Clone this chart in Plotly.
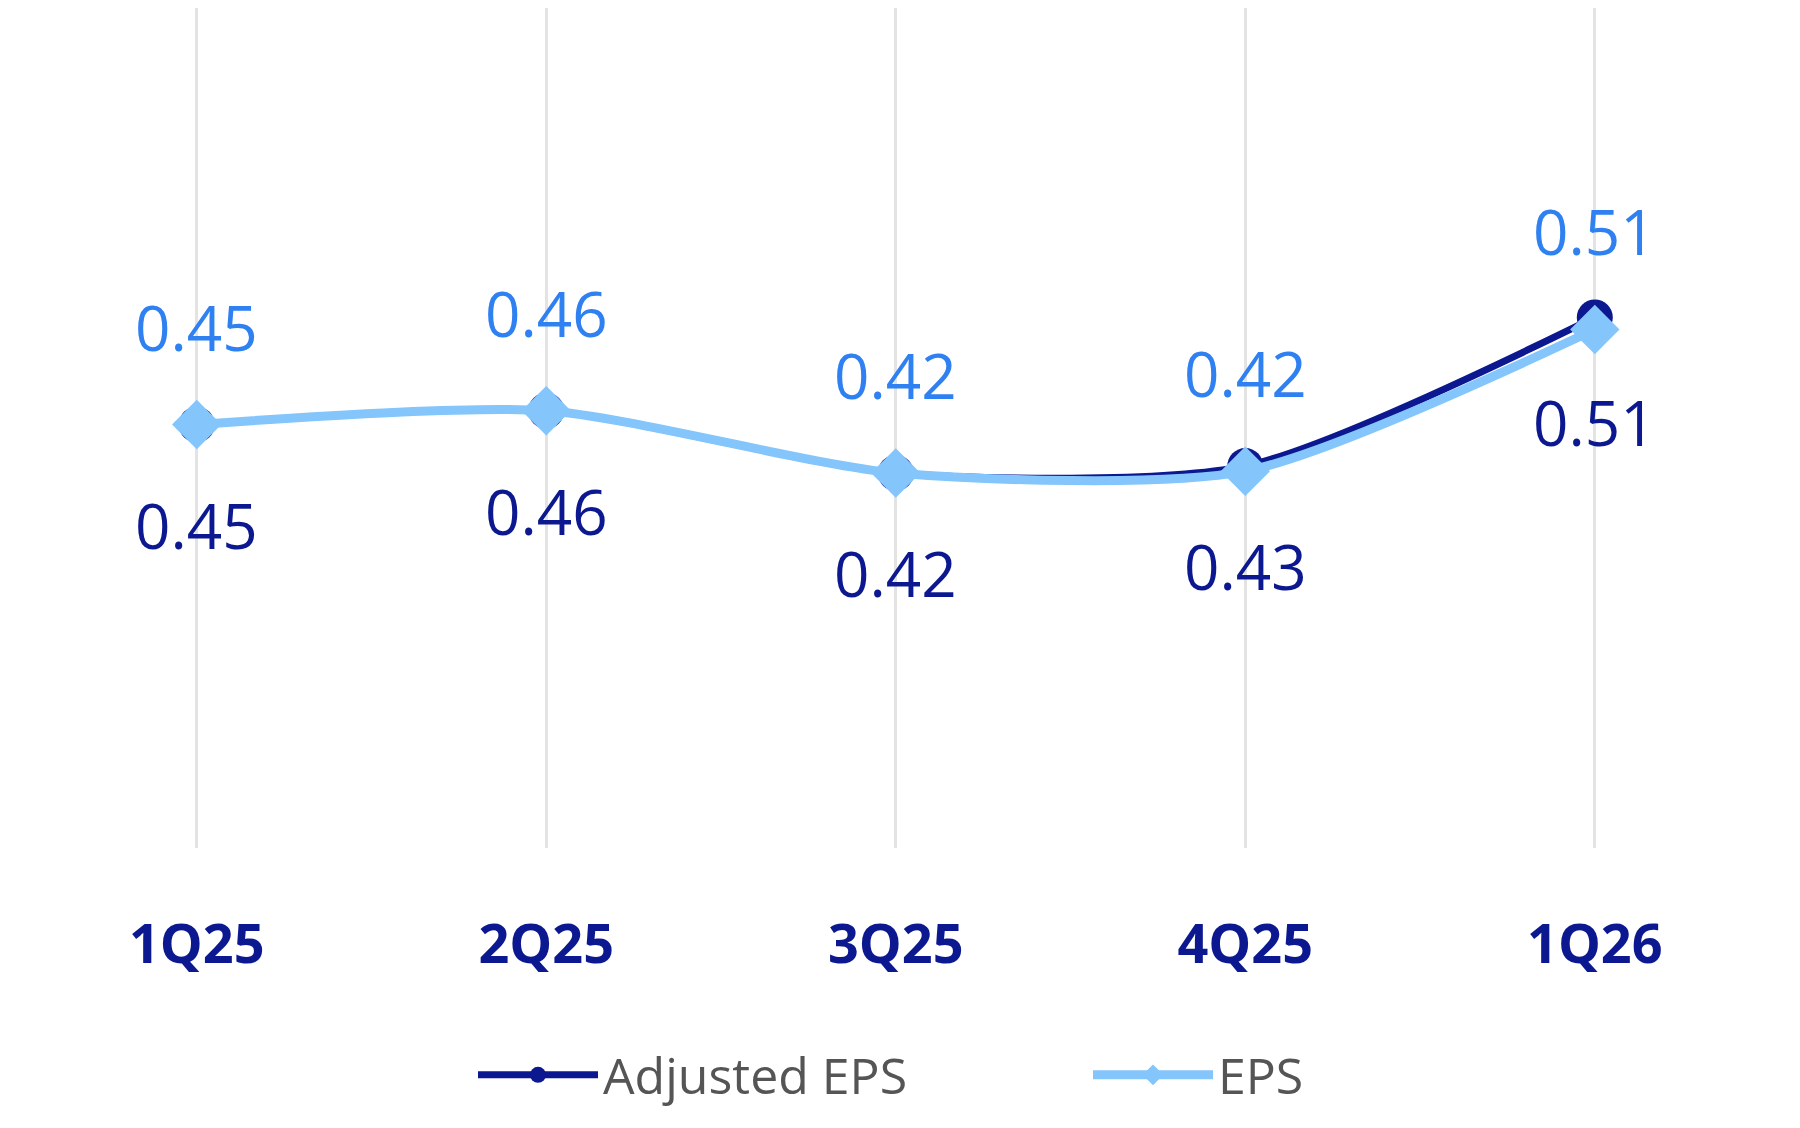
import plotly.graph_objects as go

quarters = ["1Q25", "2Q25", "3Q25", "4Q25", "1Q26"]
adjusted_eps = [0.448, 0.456, 0.420, 0.424, 0.510]
adjusted_labels = ["0.45", "0.46", "0.42", "0.43", "0.51"]
eps = [0.448, 0.456, 0.420, 0.421, 0.503]
eps_labels = ["0.45", "0.46", "0.42", "0.42", "0.51"]

navy = "#0b1890"
light = "#84c5fb"
mid = "#2f80f0"
font_family = "Open Sans"

fig = go.Figure()
fig.add_trace(go.Scatter(x=quarters, y=adjusted_eps, name="Adjusted EPS", mode="lines+markers",
                         line=dict(color=navy, width=7, shape="spline", smoothing=0.7),
                         marker=dict(symbol="circle", size=36, color=navy)))
fig.add_trace(go.Scatter(x=quarters, y=eps, name="EPS", mode="lines+markers",
                         line=dict(color=light, width=9, shape="spline", smoothing=0.7),
                         marker=dict(symbol="diamond", size=38, color=light)))

for q, v, t in zip(quarters, eps, eps_labels):
    fig.add_annotation(x=q, y=v, text=t, showarrow=False, yshift=98,
                       font=dict(size=62, color=mid, family=font_family))
for q, v, t in zip(quarters, adjusted_eps, adjusted_labels):
    shift = -100 if q != "1Q26" else -105
    fig.add_annotation(x=q, y=v, text=t, showarrow=False, yshift=shift,
                       font=dict(size=62, color=navy, family=font_family))

fig.update_xaxes(range=[-0.54, 4.61], showgrid=True, gridcolor="#e3e3e3", gridwidth=3,
                 showline=False, zeroline=False, ticks="", ticklabelstandoff=60,
                 tickfont=dict(size=54, color=navy, family=font_family, weight="bold"))
fig.update_yaxes(range=[0.203, 0.689], visible=False)
fig.update_layout(width=1800, height=1128, plot_bgcolor="white", paper_bgcolor="white",
                  margin=dict(l=0, r=0, t=0, b=288),
                  legend=dict(orientation="h", x=0.6, xanchor="center", y=-0.27, yanchor="middle",
                              font=dict(size=50, color="#555555", family=font_family),
                              itemwidth=120, itemsizing="trace", entrywidth=480))
fig.write_html("out.html")
